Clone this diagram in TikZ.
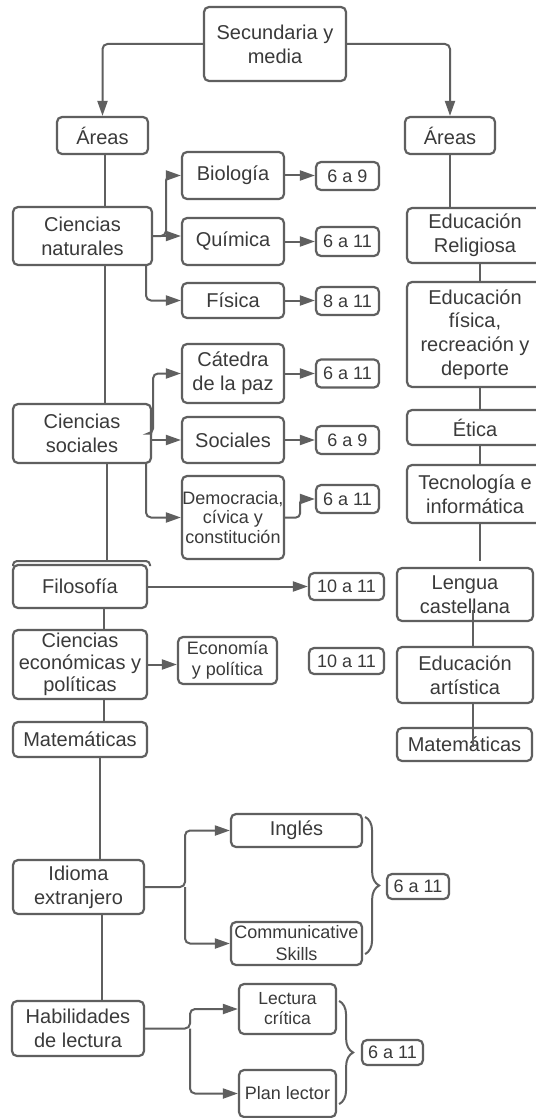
\documentclass[tikz,border=0pt]{standalone}
\usepackage{fontspec}
\setmainfont{Liberation Sans}
\usetikzlibrary{arrows.meta,decorations.pathreplacing}
\definecolor{lc}{HTML}{5F5F5F}
\definecolor{tc}{HTML}{3A3A3A}
\tikzset{
  box/.style={draw=lc, line width=2.2pt, rounded corners=5pt, fill=white, text=tc,
    inner sep=0pt, align=center, font=\fontsize{20}{24}\selectfont},
  sm/.style={font=\fontsize{18}{21}\selectfont},
  link/.style={draw=lc, line width=2pt},
  thin link/.style={draw=lc, line width=1.5pt},
  arr/.style={link, -{Triangle[length=15pt,width=10pt]}},
  rc/.style={rounded corners=5pt},
  brc/.style={link, decorate, decoration={brace, amplitude=14pt}},
}
\begin{document}
\begin{tikzpicture}[x=1pt,y=-1pt]
\useasboundingbox (0,0) rectangle (535,1118);
\fill[white] (0,0) rectangle (535,1118);

% top
\node[box, minimum width=142pt, minimum height=74pt] (sec) at (275,44) {Secundaria y\\media};
\node[box, minimum width=91pt, minimum height=37pt] (areasL) at (102.5,135.5) {Áreas};
\node[box, minimum width=90pt, minimum height=37pt] (areasR) at (450,135.5) {Áreas};

% ciencias naturales
\node[box, minimum width=139pt, minimum height=58pt] (cn) at (82.5,236) {Ciencias\\naturales};
\node[box, minimum width=102pt, minimum height=47pt] (bio) at (233,175.5) {Biología};
\node[box, minimum width=102pt, minimum height=47pt] (qui) at (233,241.5) {Química};
\node[box, minimum width=102pt, minimum height=35pt] (fis) at (233,300.5) {Física};
\node[box, sm, minimum width=63pt, minimum height=28pt] (n69a) at (347.5,176) {6 a 9};
\node[box, sm, minimum width=63pt, minimum height=29pt] (n611a) at (347.5,241.5) {6 a 11};
\node[box, sm, minimum width=63pt, minimum height=28pt] (n811) at (347.5,301) {8 a 11};

% ciencias sociales
\node[box, minimum width=138pt, minimum height=59pt] (cs) at (82,433.5) {Ciencias\\sociales};
\node[box, minimum width=102pt, minimum height=59pt] (cat) at (233,373.5) {Cátedra\\de la paz};
\node[box, minimum width=102pt, minimum height=46pt] (soc) at (233,440) {Sociales};
\node[box, minimum width=102pt, minimum height=83pt, font=\fontsize{18}{19.5}\selectfont] (dem) at (233,517.5) {Democracia,\\cívica y\\constitución};
\node[box, sm, minimum width=63pt, minimum height=28pt] (n611b) at (347.5,373.5) {6 a 11};
\node[box, sm, minimum width=63pt, minimum height=28pt] (n69b) at (347.5,440) {6 a 9};
\node[box, sm, minimum width=63pt, minimum height=28pt] (n611c) at (347.5,499) {6 a 11};

% filosofia, economicas, matematicas
\node[box, minimum width=134pt, minimum height=43pt] (fil) at (80,586.5) {Filosofía};
\node[box, sm, minimum width=75pt, minimum height=27pt] (n1011a) at (346.5,586.5) {10 a 11};
\node[box, minimum width=134pt, minimum height=69pt, font=\fontsize{20}{22}\selectfont] (ce) at (80,664.5) {Ciencias\\económicas y\\políticas};
\node[box, minimum width=99pt, minimum height=47pt, font=\fontsize{18}{21}\selectfont] (eco) at (227.5,660.5) {Economía\\y política};
\node[box, sm, minimum width=75pt, minimum height=26pt] (n1011b) at (346.5,661) {10 a 11};
\node[box, minimum width=134pt, minimum height=35pt] (matL) at (80,739.5) {Matemáticas};

% idioma
\node[box, minimum width=131pt, minimum height=54pt] (idi) at (78.5,887) {Idioma\\extranjero};
\node[box, minimum width=131pt, minimum height=33pt] (ing) at (296.5,830.5) {Inglés};
\node[box, minimum width=131pt, minimum height=43pt, font=\fontsize{18}{22}\selectfont] (com) at (296.5,943.5) {Communicative\\Skills};
\node[box, sm, minimum width=62pt, minimum height=25pt] (n611d) at (418,886.5) {6 a 11};

% habilidades
\node[box, minimum width=132pt, minimum height=55pt] (hab) at (78,1028.5) {Habilidades\\de lectura};
\node[box, minimum width=97pt, minimum height=50pt, font=\fontsize{17.5}{20}\selectfont] (lec) at (287.5,1009) {Lectura\\crítica};
\node[box, sm, minimum width=97pt, minimum height=47pt] (plan) at (287.5,1093.5) {Plan lector};
\node[box, sm, minimum width=61pt, minimum height=25pt] (n611e) at (392.5,1052.5) {6 a 11};

% right column
\node[box, minimum width=136pt, minimum height=55pt] (edR) at (475,235.5) {Educación\\Religiosa};
\node[box, minimum width=136pt, minimum height=105pt, font=\fontsize{20}{23.7}\selectfont] (edF) at (475,334.5) {Educación\\física,\\recreación y\\deporte};
\node[box, minimum width=136pt, minimum height=35pt] (etica) at (475,427.5) {Ética};
\node[box, minimum width=136pt, minimum height=58pt] (tec) at (475,494) {Tecnología e\\informática};
\node[box, minimum width=136pt, minimum height=53pt] (len) at (465,594.5) {Lengua\\castellana};
\node[box, minimum width=136pt, minimum height=56pt] (art) at (465,675) {Educación\\artística};
\node[box, minimum width=135pt, minimum height=33pt] (matR) at (464.5,744.5) {Matemáticas};

% ---------- connectors ----------
\draw[arr, rc] (sec.west) -| (areasL.north);
\draw[arr, rc] (sec.east) -| (areasR.north);

% left trunk
\draw[link] (105,0 |- areasL.south) -- (105,0 |- cn.north);
\draw[link] (105,0 |- cn.south) -- (105,0 |- cs.north);
\coordinate (cut) at (107,561);
\draw[link] (107,0 |- cs.south) -- (cut);
\draw[link, rounded corners=4pt] (13,566) -- (13,561) -- (150,561) -- (150,566);
\draw[link] (104,0 |- fil.south) -- (104,0 |- ce.north);
\draw[link] (104,0 |- ce.south) -- (104,0 |- matL.north);
\draw[link] (100,0 |- matL.south) -- (100,0 |- idi.north);
\draw[link] (102,0 |- idi.south) -- (102,0 |- hab.north);

% ciencias naturales branches
\draw[arr, rc] (cn.east) -- (166,0 |- cn.east) |- (bio.west);
\draw[arr] (cn.east) -- (cn.east -| qui.west);
\draw[arr, rc] (146,0 |- cn.south) |- (fis.west);
\draw[arr] (bio.east) -- (bio.east -| n69a.west);
\draw[arr] (qui.east) -- (qui.east -| n611a.west);
\draw[arr] (fis.east) -- (fis.east -| n811.west);

% ciencias sociales branches
\draw[arr, rc] (cs.east) -- (153,0 |- cs.east) |- (cat.west);
\draw[arr] (cs.east |- soc.west) -- (soc.west);
\draw[arr, rc] (146,0 |- cs.south) |- (dem.west);
\draw[arr] (cat.east) -- (n611b.west);
\draw[arr] (soc.east) -- (n69b.west);
\draw[arr, rounded corners=4pt] (dem.east) -- (300,0 |- dem.east) |- (n611c.west);

% filosofia / economicas
\draw[arr] (fil.east) -- (n1011a.west);
\draw[arr] (ce.east) -- (ce.east -| eco.west);

% idioma
\coordinate (ji) at (185,0 |- idi.east);
\draw[arr, rc] (idi.east) -- (ji) |- (ing.west);
\draw[arr, rc] (ji) |- (com.west);
\draw[brc] ([xshift=2pt,yshift=-4pt]ing.north east) -- ([xshift=2pt,yshift=12pt]com.south east);

% habilidades
\coordinate (jh) at (190,0 |- hab.east);
\draw[arr, rc] (hab.east) -- (jh) |- (lec.west);
\draw[arr, rc] (jh) |- (plan.west);
\draw[brc] ([xshift=2pt,yshift=-18pt]lec.north east) -- ([xshift=2pt,yshift=14pt]plan.south east);

% right column
\draw[link] (areasR.south) -- (areasR.south |- edR.north);
\draw[link] (480,0 |- edR.south) -- (480,0 |- edF.north);
\draw[link] (480,0 |- edF.south) -- (480,0 |- etica.north);
\draw[link] (480,0 |- etica.south) -- (480,0 |- tec.north);
\draw[link] (480,0 |- tec.south) -- ([yshift=6pt]480,0 |- len.north);
\draw[thin link] ([xshift=8pt,yshift=-15pt]len.center) -- (473,0 |- art.north);
\draw[thin link] (473,0 |- art.south) -- ([xshift=8.5pt,yshift=-2.5pt]matR.center);
\end{tikzpicture}
\end{document}
